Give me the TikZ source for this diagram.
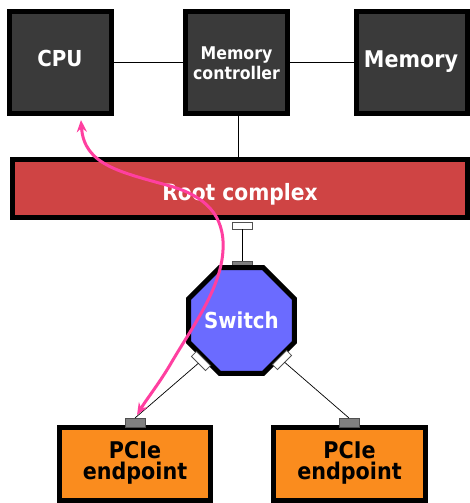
\documentclass[tikz,border=0pt]{standalone}
\usepackage{fontspec}
\setmainfont{DejaVu Sans}[FakeStretch=0.9]
\usetikzlibrary{arrows.meta,shapes.geometric}
\definecolor{boxgray}{HTML}{3A3A3A}
\definecolor{rootred}{HTML}{CF4444}
\definecolor{swblue}{HTML}{6B6BFF}
\definecolor{eporange}{HTML}{FA8C1E}
\definecolor{pinkarrow}{HTML}{FF3FA0}
\definecolor{conngray}{HTML}{808080}
\definecolor{connedge}{HTML}{505050}
\begin{document}
\begin{tikzpicture}[x=1pt,y=-1pt,
  blk/.style={draw=black,line width=5pt,fill=boxgray,minimum width=102pt,minimum height=102pt,inner sep=0pt,outer sep=0pt},
  wtxt/.style={text=white,font=\bfseries\fontsize{#1}{20}\selectfont,align=center,inner sep=0pt},
  btxt/.style={text=black,font=\bfseries\fontsize{23}{21}\selectfont,align=center,inner sep=0pt},
  wport/.style={draw=connedge,fill=white,line width=0.8pt,minimum width=20pt,minimum height=7pt,inner sep=0pt,outer sep=0pt},
  gport/.style={draw=connedge,fill=conngray,line width=0.8pt,minimum width=20pt,minimum height=8pt,inner sep=0pt,outer sep=0pt},
  wire/.style={draw=black,line width=0.7pt},
  flow/.style={draw=pinkarrow,line width=3pt,{Stealth[length=12pt,width=10pt]}-{Stealth[length=12pt,width=10pt]}}
]
\useasboundingbox (0,0) rectangle (470,503);

% top row boxes
\node[blk] (cpu) at (60.5,62.5) {};
\node[blk] (mc) at (236.5,62.5) {};
\node[blk,minimum width=111pt] (mem) at (412,62.5) {};
\node[wtxt=22] (cputxt) at (60,58) {CPU};
\node[wtxt=17.5] (mctxt) at (236.5,63) {Memory\\controller};
\node[wtxt=23] (memtxt) at (411,62) {Memory};

% root complex
\node[draw=black,line width=5pt,fill=rootred,minimum width=455pt,minimum height=58pt,inner sep=0pt,outer sep=0pt] (root) at (240,188.5) {};
\node[wtxt=22.5] (roottxt) at (240,194) {Root complex};

\draw[wire] (cpu.east) -- (mc.west);
\draw[wire] (mc.east) -- (mem.west);
\draw[wire] ([xshift=1.5pt]mc.south) -- ([xshift=1.5pt]mc.south |- root.north);

% ports and switch
\node[wport] (rport) at (242,225.5) {};
\node[gport] (stop) at (242,265) {};
\draw[wire] (rport.south) -- (stop.north);

\node[draw=black,line width=5pt,fill=swblue,regular polygon,regular polygon sides=8,minimum size=108pt,inner sep=0pt,outer sep=0pt,text=white,font=\bfseries\fontsize{22}{24}\selectfont] (sw) at (241.5,320.5) {Switch};

\node[wport,rotate=-45] (swl) at (201,361) {};
\node[wport,rotate=45] (swr) at (282,360) {};

% endpoints
\node[draw=black,line width=5pt,fill=eporange,minimum width=151pt,minimum height=73pt,inner sep=0pt,outer sep=0pt] (epl) at (135,464) {};
\node[draw=black,line width=5pt,fill=eporange,minimum width=152pt,minimum height=73pt,inner sep=0pt,outer sep=0pt] (epr) at (349.5,464) {};
\node[btxt] (epltxt) at (135,463) {PCIe\\endpoint};
\node[btxt] (eprtxt) at (349.5,463) {PCIe\\endpoint};
\node[gport,minimum height=9pt] (pl) at (135,422.5) {};
\node[gport,minimum height=9pt] (pr) at (349,422.5) {};

\draw[wire] (swl) -- (pl.north);
\draw[wire] (swr) -- (pr.north);

% data flow arrow
\coordinate (fa) at (81,120);
\coordinate (fb) at (137,415);
\draw[flow] (fa) .. controls (84,165) and (120,172) .. (170,186)
  .. controls (205,196) and (225,215) .. (223,250)
  .. controls (221,290) and (190,330) .. (170,365)
  .. controls (158,385) and (146,400) .. (fb);
\end{tikzpicture}
\end{document}
